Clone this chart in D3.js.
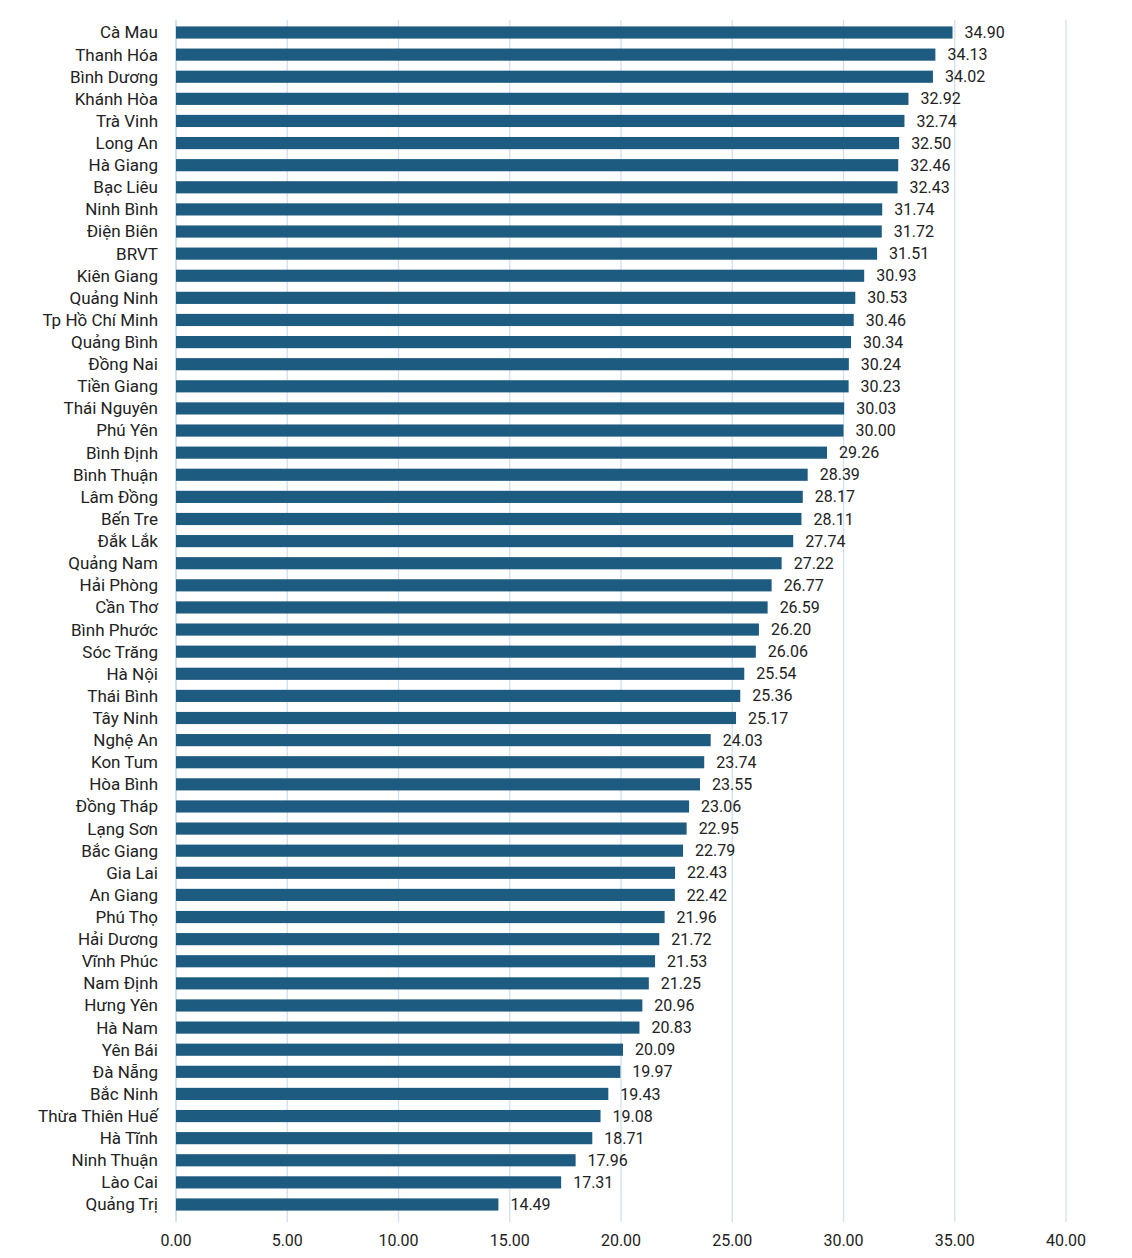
<!DOCTYPE html><html><head><meta charset="utf-8"><script src="https://cdn.jsdelivr.net/npm/d3@7"></script>
<style>body{margin:0;background:#fff}</style></head><body><svg id="c" width="1132" height="1258"></svg>
<script>
const provinces=["Cà Mau","Thanh Hóa","Bình Dương","Khánh Hòa","Trà Vinh","Long An","Hà Giang","Bạc Liêu","Ninh Bình","Điện Biên","BRVT","Kiên Giang","Quảng Ninh","Tp Hồ Chí Minh","Quảng Bình","Đồng Nai","Tiền Giang","Thái Nguyên","Phú Yên","Bình Định","Bình Thuận","Lâm Đồng","Bến Tre","Đắk Lắk","Quảng Nam","Hải Phòng","Cần Thơ","Bình Phước","Sóc Trăng","Hà Nội","Thái Bình","Tây Ninh","Nghệ An","Kon Tum","Hòa Bình","Đồng Tháp","Lạng Sơn","Bắc Giang","Gia Lai","An Giang","Phú Thọ","Hải Dương","Vĩnh Phúc","Nam Định","Hưng Yên","Hà Nam","Yên Bái","Đà Nẵng","Bắc Ninh","Thừa Thiên Huế","Hà Tĩnh","Ninh Thuận","Lào Cai","Quảng Trị"];
const values=[34.90,34.13,34.02,32.92,32.74,32.50,32.46,32.43,31.74,31.72,31.51,30.93,30.53,30.46,30.34,30.24,30.23,30.03,30.00,29.26,28.39,28.17,28.11,27.74,27.22,26.77,26.59,26.20,26.06,25.54,25.36,25.17,24.03,23.74,23.55,23.06,22.95,22.79,22.43,22.42,21.96,21.72,21.53,21.25,20.96,20.83,20.09,19.97,19.43,19.08,18.71,17.96,17.31,14.49];
const ticks=[0,5,10,15,20,25,30,35,40];
const svg=d3.select("#c"),font="Roboto, sans-serif";
const x=d3.scaleLinear().domain([0,40]).range([176,1066]);
const y=d3.scaleBand().domain(provinces).range([22,1215]).paddingInner(0.45).paddingOuter(0.2);
svg.append("g").selectAll("line").data(ticks).join("line").attr("x1",d=>x(d)).attr("x2",d=>x(d)).attr("y1",20).attr("y2",1222).attr("stroke",d=>d===0?"#b9d3e6":"#cfe0ee").attr("stroke-width",1.3);
svg.append("g").selectAll("rect").data(provinces).join("rect").attr("x",x(0)).attr("y",d=>y(d)).attr("height",y.bandwidth()).attr("width",(d,i)=>x(values[i])-x(0)).attr("fill","#1e5b80");
svg.append("g").selectAll("text").data(provinces).join("text").attr("x",158).attr("y",d=>y(d)+y.bandwidth()/2).attr("dy","0.35em").attr("text-anchor","end").attr("font-family",font).attr("font-size",17).attr("fill","#222").text(d=>d);
svg.append("g").selectAll("text").data(provinces).join("text").attr("x",(d,i)=>x(values[i])+12).attr("y",d=>y(d)+y.bandwidth()/2).attr("dy","0.35em").attr("font-family",font).attr("font-size",16).attr("fill","#222").text((d,i)=>values[i].toFixed(2));
svg.append("g").selectAll("text").data(ticks).join("text").attr("x",d=>x(d)).attr("y",1246).attr("text-anchor","middle").attr("font-family",font).attr("font-size",16).attr("fill","#222").text(d=>d.toFixed(2));
</script></body></html>
